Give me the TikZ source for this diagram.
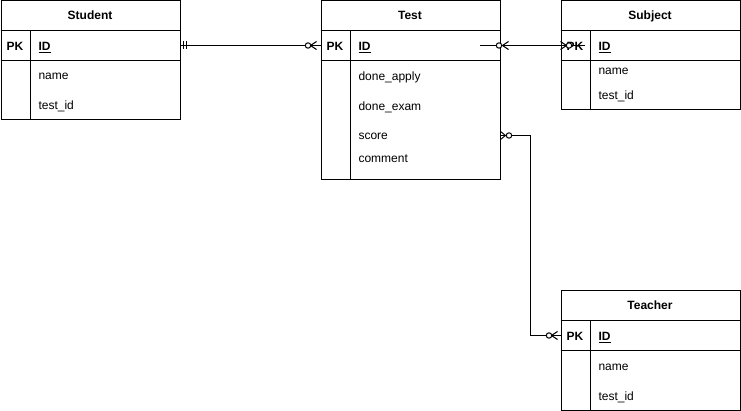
\documentclass[tikz,border=0pt]{standalone}
\usepackage{fontspec}
\setmainfont{Liberation Sans}
\begin{document}
\begin{tikzpicture}[x=1pt,y=-1pt,line width=1pt,
  font=\fontsize{12}{14}\selectfont,
  tbl/.style={draw,rectangle,inner sep=0pt,minimum width=179pt,anchor=north west},
  ttl/.style={inner sep=0pt,anchor=base,font=\fontsize{12}{14}\selectfont\bfseries},
  fld/.style={inner sep=0pt,anchor=base west},
  pk/.style={inner sep=0pt,anchor=base,font=\fontsize{12}{14}\selectfont\bfseries},
  conn/.style={draw,line width=1pt},
  zc/.style={draw,fill=white,line width=1pt}]
\useasboundingbox (0,0) rectangle (741,411);
% ---------- Student
\node[tbl,minimum height=119pt] (student) at (0.5,0.5) {};
\draw (0.5,30.5) -- (180.5,30.5) (0.5,60.5) -- (180.5,60.5) (30.5,30.5) -- (30.5,119.5);
\node[ttl] (studentT) at (90,20) {Student};
\node[pk] (studentPK) at (15,50.5) {PK};
\node[fld,font=\fontsize{12}{14}\selectfont\bfseries] (studentID) at (38,50.5) {\underline{ID}};
\node[fld] (studentN) at (38,80) {name};
\node[fld] (studentTI) at (38,110) {test\_id};
% ---------- Test
\node[tbl,minimum height=179pt] (test) at (320.5,0.5) {};
\draw (320.5,30.5) -- (500.5,30.5) (320.5,60.5) -- (500.5,60.5) (350.5,30.5) -- (350.5,179.5);
\node[ttl] (testT) at (410,20) {Test};
\node[pk] (testPK) at (335,50.5) {PK};
\node[fld,font=\fontsize{12}{14}\selectfont\bfseries] (testID) at (358,50.5) {\underline{ID}};
\node[fld] (testA) at (358,80.5) {done\_apply};
\node[fld] (testE) at (358,110.5) {done\_exam};
\node[fld] (testS) at (358,140) {score};
\node[fld] (testC) at (358,162.5) {comment};
% ---------- Subject
\node[tbl,minimum height=109pt] (subject) at (560.5,0.5) {};
\draw (560.5,30.5) -- (740.5,30.5) (560.5,60.5) -- (740.5,60.5) (590.5,30.5) -- (590.5,109.5);
\node[ttl] (subjectT) at (650,20) {Subject};
\node[pk] (subjectPK) at (575,50.5) {PK};
\node[fld,font=\fontsize{12}{14}\selectfont\bfseries] (subjectID) at (598,50.5) {\underline{ID}};
\node[fld] (subjectN) at (598,75) {name};
\node[fld] (subjectTI) at (598,100) {test\_id};
% ---------- Teacher
\node[tbl,minimum height=119pt] (teacher) at (560.5,290.5) {};
\draw (560.5,320.5) -- (740.5,320.5) (560.5,350.5) -- (740.5,350.5) (590.5,320.5) -- (590.5,409.5);
\node[ttl] (teacherT) at (650,309.5) {Teacher};
\node[pk] (teacherPK) at (575,340.5) {PK};
\node[fld,font=\fontsize{12}{14}\selectfont\bfseries] (teacherID) at (598,340.5) {\underline{ID}};
\node[fld] (teacherN) at (598,370) {name};
\node[fld] (teacherTI) at (598,400) {test\_id};
% ---------- connector endpoints
\coordinate (stuR) at (180.5,45.5);
\coordinate (testL) at (320.5,45.5);
\coordinate (testIn) at (480,45.5);
\coordinate (testR) at (500.5,45.5);
\coordinate (subL) at (560.5,45.5);
\coordinate (subIn) at (585,45.5);
\coordinate (testR3) at (500.5,135.5);
\coordinate (bend) at (530.5,135.5);
\coordinate (tchL) at (560.5,335.5);
% Student -- Test
\draw[conn] (stuR) -- (testL);
\draw[conn,shift={(stuR)}] (3,-4) -- (3,4) (6,-4) -- (6,4);
\draw[conn,shift={(testL)}] (-4,-4) -- (-10,0) -- (-4,4);
\draw[zc,shift={(testL)}] (-12.5,0) circle (2.7pt);
% Test -- Subject
\draw[conn] (testIn) -- (subIn);
\draw[conn,shift={(testR)}] (8,-4) -- (2,0) -- (8,4);
\draw[zc,shift={(testR)}] (-1.5,0) circle (2.7pt);
\draw[conn,shift={(subL)}] (0,-4) -- (6,0) -- (0,4);
\draw[zc,shift={(subL)}] (8.5,0) circle (2.7pt);
% Test -- Teacher
\draw[conn] (testR3) -- (bend) |- (tchL);
\draw[conn,shift={(testR3)}] (0,-4) -- (5,0) -- (0,4);
\draw[zc,shift={(testR3)}] (8.5,0) circle (2.7pt);
\draw[conn,shift={(tchL)}] (-3,-4) -- (-9,0) -- (-3,4);
\draw[zc,shift={(tchL)}] (-11.5,0) circle (2.7pt);
\end{tikzpicture}
\end{document}
